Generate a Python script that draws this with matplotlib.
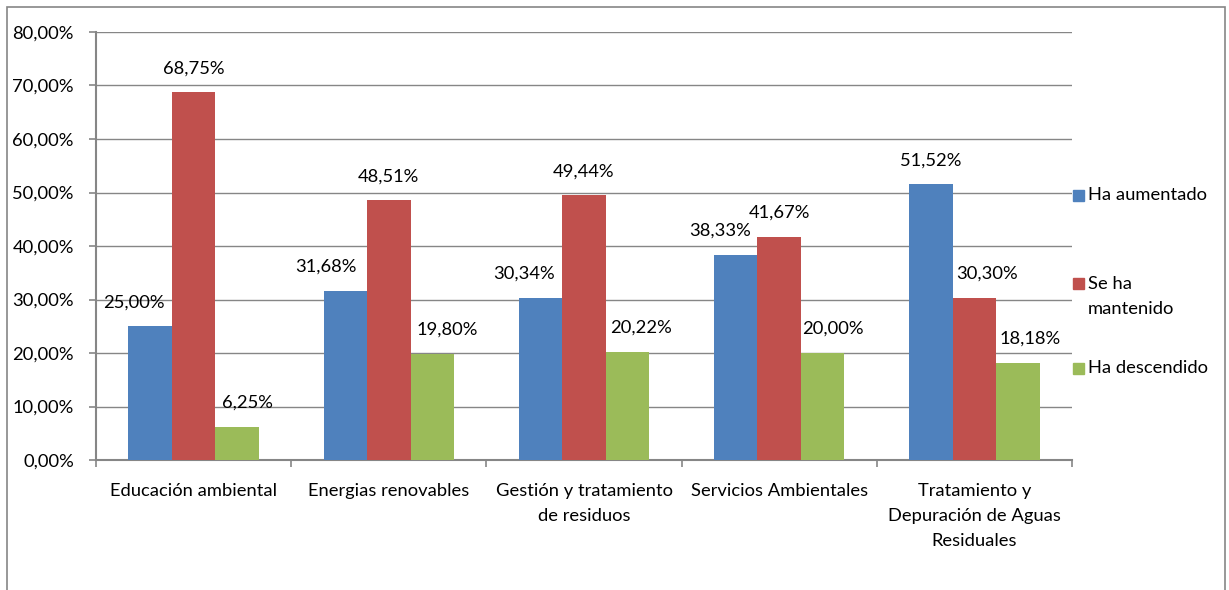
import matplotlib.pyplot as plt
import numpy as np
from matplotlib.patches import Rectangle

categories = ["Educación ambiental", "Energias renovables", "Gestión y tratamiento\nde residuos",
              "Servicios Ambientales", "Tratamiento y\nDepuración de Aguas\nResiduales"]
series_names = ["Ha aumentado", "Se ha\nmantenido", "Ha descendido"]
aumentado = [25.00, 31.68, 30.34, 38.33, 51.52]
mantenido = [68.75, 48.51, 49.44, 41.67, 30.30]
descendido = [6.25, 19.80, 20.22, 20.00, 18.18]
colors = ["#4F81BD", "#C0504D", "#9BBB59"]
yticks = [0, 10, 20, 30, 40, 50, 60, 70, 80]

# horizontal nudges of the data labels (pixels), as placed in the original
label_dx = [[-16, -19, -16, -16, 0],
            [0, 0, 0, 0, 13],
            [10, 15, 13, 10, 12]]

plt.rcParams['font.family'] = ['Lato', 'DejaVu Sans']
FS = 13.2
W, H = 1229, 590
fig = plt.figure(figsize=(W / 100, H / 100), dpi=100)
ax = fig.add_axes([96 / W, 1 - 460 / H, (1072 - 96) / W, (460 - 32) / H])

x = np.arange(len(categories))
bw = 0.223
grid_c = "#868686"
for i, vals in enumerate([aumentado, mantenido, descendido]):
    pos = x + (i - 1) * bw
    ax.bar(pos, vals, width=bw, color=colors[i], zorder=3, linewidth=0)
    for p, v, dx in zip(pos, vals, label_dx[i]):
        ax.annotate(f"{v:.2f}%".replace(".", ","), (p, v), xytext=(dx, 24),
                    textcoords="offset pixels", ha="center", va="center",
                    fontsize=FS, color="black", zorder=4)

ax.set_xlim(-0.5, len(categories) - 0.5)
ax.set_ylim(0, 80)
ax.set_yticks(yticks)
ax.set_yticklabels([f"{t:.2f}%".replace(".", ",") for t in yticks], fontsize=FS)
ax.yaxis.grid(True, color=grid_c, linewidth=1.0, zorder=0)
ax.set_xticks(np.arange(-0.5, len(categories), 1.0))
ax.set_xticklabels([])
ax.set_xticks(x, minor=True)
ax.set_xticklabels(categories, minor=True, fontsize=FS, linespacing=1.68)
ax.tick_params(axis="x", which="minor", length=0, pad=16.5)
ax.tick_params(axis="x", which="major", length=5, color=grid_c, width=1.2)
ax.tick_params(axis="y", length=5, color=grid_c, width=1.2, pad=11)
for s in ["top", "right"]:
    ax.spines[s].set_visible(False)
for s in ["left", "bottom"]:
    ax.spines[s].set_color(grid_c)
    ax.spines[s].set_linewidth(1.5)

# legend drawn by hand to follow the Excel layout
leg_y = [195, 283, 368]
for c, name, yy in zip(colors, series_names, leg_y):
    fig.patches.append(Rectangle((1073 / W, 1 - (yy + 6) / H), 11 / W, 11 / H,
                                 transform=fig.transFigure, color=c))
    if "\n" in name:
        fig.text(1088 / W, 1 - (yy - 7) / H, name, va="top", ha="left",
                 fontsize=FS, linespacing=1.68)
    else:
        fig.text(1088 / W, 1 - yy / H, name, va="center", ha="left", fontsize=FS)

# outer chart frame
fig.patches.append(Rectangle((7 / W, -0.05), (1225 - 7) / W, 1 - 7 / H + 0.05,
                             transform=fig.transFigure, fill=False,
                             edgecolor="#868686", linewidth=1.2))

fig.savefig("out.png", dpi=100)
